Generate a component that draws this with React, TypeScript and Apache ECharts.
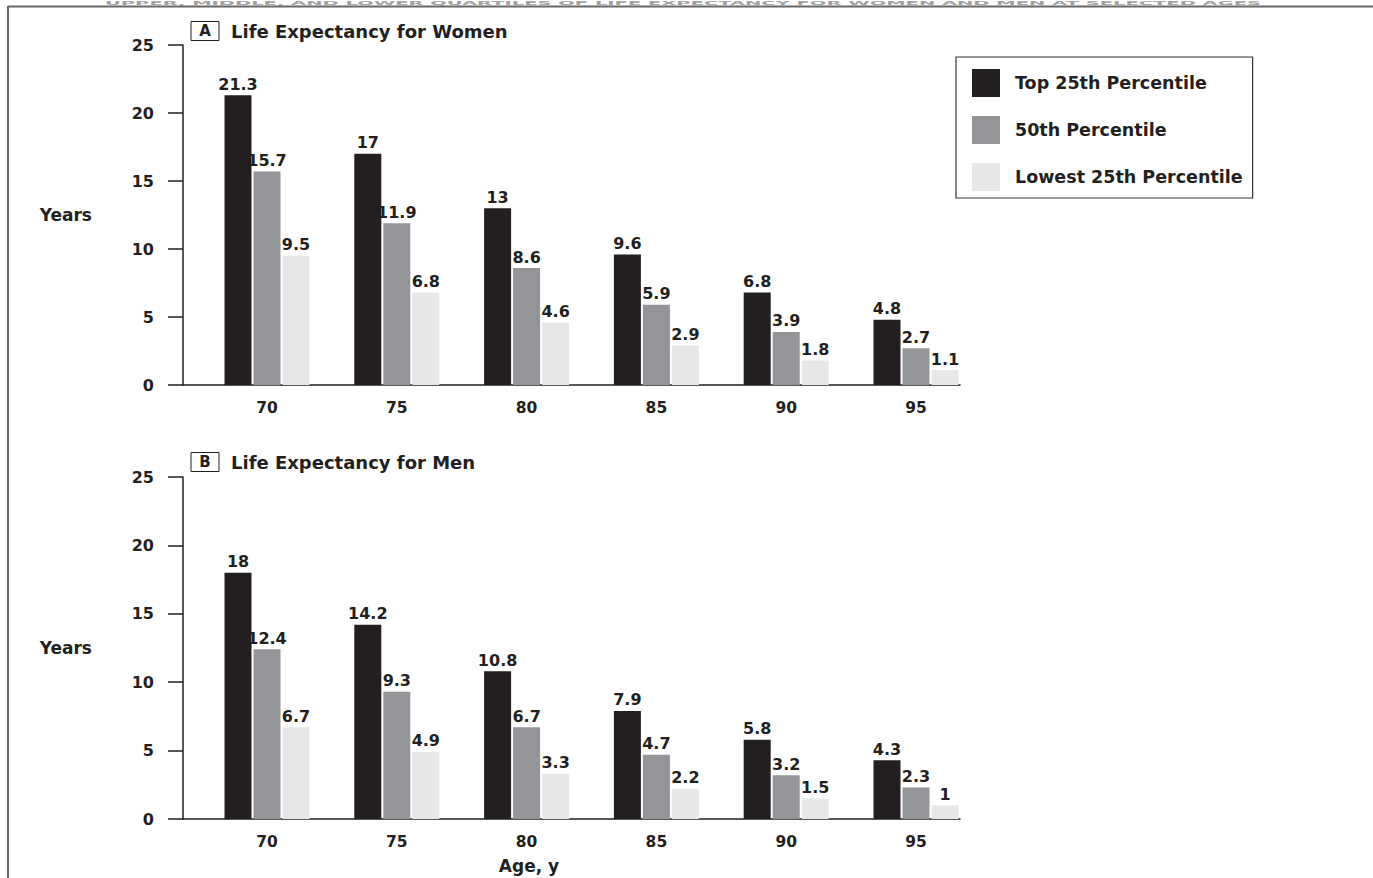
import React, { useEffect, useRef } from "react";
import * as echarts from "echarts";

const ages = [70, 75, 80, 85, 90, 95];
const seriesNames = ["Top 25th Percentile", "50th Percentile", "Lowest 25th Percentile"];
const colors = ["#231f20", "#939598", "#e6e7e8"];
const womenTop = [21.3, 17, 13, 9.6, 6.8, 4.8];
const womenMid = [15.7, 11.9, 8.6, 5.9, 3.9, 2.7];
const womenLow = [9.5, 6.8, 4.6, 2.9, 1.8, 1.1];
const menTop = [18, 14.2, 10.8, 7.9, 5.8, 4.3];
const menMid = [12.4, 9.3, 6.7, 4.7, 3.2, 2.3];
const menLow = [6.7, 4.9, 3.3, 2.2, 1.5, 1];
const yTicks = [0, 5, 10, 15, 20, 25];
const cutTitle = "UPPER, MIDDLE, AND LOWER QUARTILES OF LIFE EXPECTANCY FOR WOMEN AND MEN AT SELECTED AGES";

const FONT = "DejaVu Sans";
const INK = "#231f20";

export default function App() {
  const ref = useRef<HTMLDivElement>(null);
  useEffect(() => {
    if (!ref.current) return;
    const chart = echarts.init(ref.current, null, { renderer: "svg" });
    const pxPerUnit = 649 / 25;
    const xMin = 70 - 84 / pxPerUnit;
    const xMax = 95 + 44 / pxPerUnit;

    const xAxisBase = (gridIndex: number) => ({
      type: "value",
      gridIndex,
      min: xMin,
      max: xMax,
      axisLine: { show: true, lineStyle: { color: INK, width: 1.5 } },
      axisTick: { show: false },
      splitLine: { show: false },
      axisLabel: {
        customValues: ages,
        margin: 15,
        color: INK,
        fontFamily: FONT,
        fontWeight: "bold",
        fontSize: 15.5,
      },
    });
    const yAxisBase = (gridIndex: number) => ({
      type: "value",
      gridIndex,
      min: 0,
      max: 25,
      interval: 5,
      name: "Years",
      nameLocation: "middle",
      nameRotate: 0,
      nameGap: 91,
      nameTextStyle: { color: INK, fontFamily: FONT, fontWeight: "bold", fontSize: 17 },
      axisLine: { show: true, lineStyle: { color: INK, width: 1.5 } },
      axisTick: { show: true, length: 15, lineStyle: { color: INK, width: 1.5 } },
      splitLine: { show: false },
      axisLabel: {
        customValues: yTicks,
        margin: 29,
        color: INK,
        fontFamily: FONT,
        fontWeight: "bold",
        fontSize: 16,
      },
    });

    const mk = (name: string, idx: number, vals: number[], gi: number) => ({
      type: "bar",
      name,
      xAxisIndex: gi,
      yAxisIndex: gi,
      barWidth: 27,
      barGap: "7.4%",
      itemStyle: { color: colors[idx] },
      label: {
        show: true,
        position: "top",
        distance: 3,
        color: INK,
        fontFamily: FONT,
        fontWeight: "bold",
        fontSize: 16,
        formatter: (p: any) => String(p.value[1]),
      },
      data: ages.map((a, i) => [a, vals[i]]),
    });

    const titleText = (letter: string, text: string, y: number) => [
      {
        type: "rect",
        shape: { x: 191, y: y - 9.5, width: 28, height: 19 },
        style: { fill: "#fff", stroke: INK, lineWidth: 1 },
      },
      {
        type: "text",
        x: 205,
        y,
        style: {
          text: letter,
          fill: INK,
          font: `bold 15px ${FONT}`,
          textAlign: "center",
          textVerticalAlign: "middle",
        },
      },
      {
        type: "text",
        x: 231,
        y,
        style: {
          text,
          fill: INK,
          font: `bold 18px ${FONT}`,
          textAlign: "left",
          textVerticalAlign: "middle",
        },
      },
    ];

    chart.setOption({
      animation: false,
      backgroundColor: "#fff",
      grid: [
        { left: 183, top: 45, width: 777, height: 340 },
        { left: 183, top: 477, width: 777, height: 342 },
      ],
      xAxis: [xAxisBase(0), xAxisBase(1)],
      yAxis: [yAxisBase(0), yAxisBase(1)],
      legend: {
        orient: "vertical",
        left: 956,
        top: 57,
        padding: [12, 10, 7, 16],
        itemWidth: 28,
        itemHeight: 28,
        itemGap: 19,
        borderColor: "#333",
        borderWidth: 1.2,
        data: seriesNames.map((n) => ({ name: n, icon: "rect" })),
        textStyle: {
          color: INK,
          fontFamily: FONT,
          fontWeight: "bold",
          fontSize: 17.5,
          padding: [0, 0, 0, 10],
        },
      },
      series: [
        mk(seriesNames[0], 0, womenTop, 0),
        mk(seriesNames[1], 1, womenMid, 0),
        mk(seriesNames[2], 2, womenLow, 0),
        mk(seriesNames[0], 0, menTop, 1),
        mk(seriesNames[1], 1, menMid, 1),
        mk(seriesNames[2], 2, menLow, 1),
      ],
      graphic: [
        {
          type: "text",
          x: 683,
          y: 0.5,
          scaleX: 3.9,
          silent: true,
          style: {
            text: cutTitle,
            fill: "#a0a0a0",
            font: `bold 5px ${FONT}`,
            textAlign: "center",
            textVerticalAlign: "top",
          },
        },
        {
          type: "line",
          shape: { x1: 8, y1: 6.5, x2: 1373, y2: 6.5 },
          style: { stroke: "#666", lineWidth: 2 },
        },
        {
          type: "line",
          shape: { x1: 8, y1: 6, x2: 8, y2: 878 },
          style: { stroke: "#666", lineWidth: 2 },
        },
        ...titleText("A", "Life Expectancy for Women", 31),
        ...titleText("B", "Life Expectancy for Men", 462),
        {
          type: "text",
          x: 529,
          y: 866,
          style: {
            text: "Age, y",
            fill: INK,
            font: `bold 17px ${FONT}`,
            textAlign: "center",
            textVerticalAlign: "middle",
          },
        },
      ],
    });
    return () => chart.dispose();
  }, []);
  return (
    <div
      ref={ref}
      style={{ position: "fixed", left: 0, top: 0, width: 1373, height: 878 }}
    />
  );
}
